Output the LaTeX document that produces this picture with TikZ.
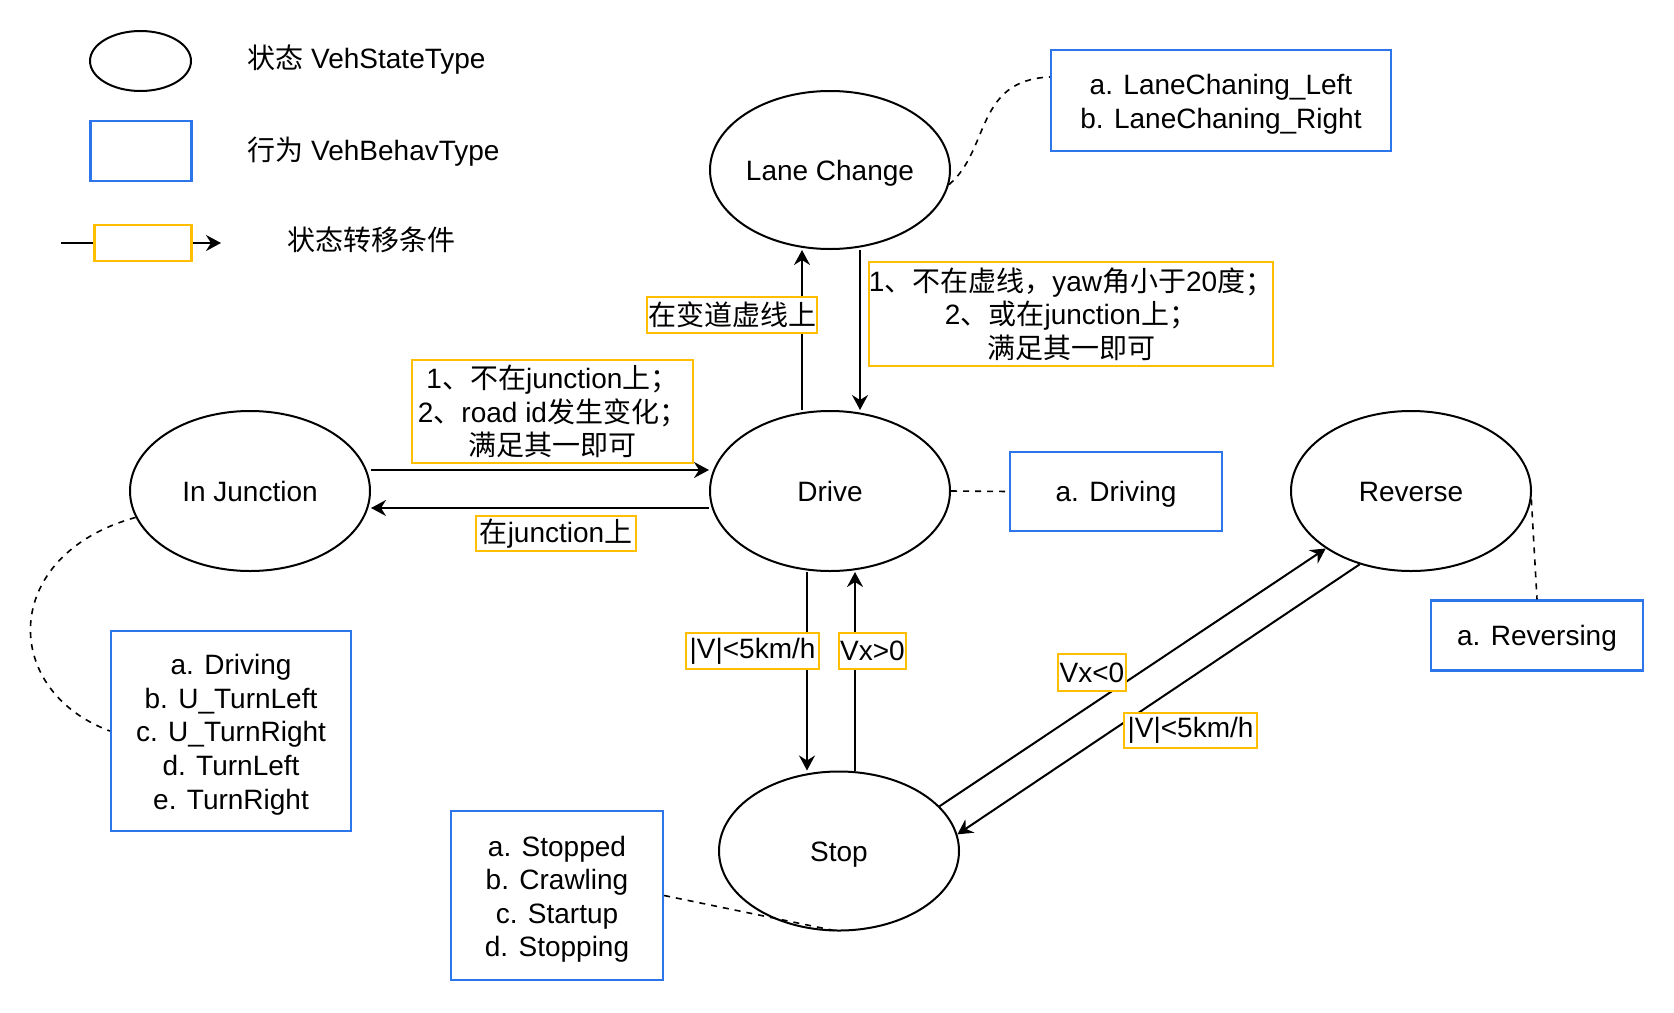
\documentclass[tikz,border=0pt]{standalone}
\usepackage{fontspec}
\setmainfont{Liberation Sans}
\newfontfamily\cjk{Noto Sans CJK SC}
\newcommand\zh[1]{{\cjk #1}}
\newcommand\topfix{\rule{0pt}{13.8pt}}
\usetikzlibrary{shapes.geometric,arrows.meta,calc}
\definecolor{bbl}{RGB}{45,117,235}
\definecolor{yel}{RGB}{255,190,0}
\begin{document}
\begin{tikzpicture}[x=0.5pt,y=-0.5pt,
  every node/.style={font=\fontsize{14}{16.8}\selectfont, align=center},
  oneline/.style={text height=10.2pt, text depth=0pt},
  state/.style={ellipse, draw, line width=1pt, inner sep=0, minimum width=120pt, minimum height=80pt, oneline},
  behav/.style={rectangle, draw=bbl, line width=1.1pt, inner sep=0},
  cond/.style={rectangle, draw=yel, fill=white, line width=1.1pt, inner sep=0},
  conn/.style={line width=1pt, -{Stealth[length=7.5pt,width=8pt,inset=2.5pt]}},
  note/.style={line width=0.8pt, dash pattern=on 3pt off 3pt},
]
\fill[white] (0,0) rectangle (1674,1012);
\useasboundingbox (0,0) rectangle (1674,1012);

% legend
\node[state, minimum width=50.5pt, minimum height=30pt] (lgE) at (140.5,61) {};
\node[behav, minimum width=50.5pt, minimum height=30pt] (lgR) at (141,151) {};
\node[cond, minimum width=48.5pt, minimum height=18pt] (lgY) at (143,243) {};
\coordinate (lgA) at (61,243);
\coordinate (lgB) at (221,243);
\draw[line width=1pt] (lgA) -- (lgY.west);
\draw[conn] (lgY.east) -- (lgB);
\node[anchor=west, inner sep=0] (lgT1) at (247,60) {\zh{状态} VehStateType};
\node[anchor=west, inner sep=0] (lgT2) at (247,152) {\zh{行为} VehBehavType};
\node[anchor=west, inner sep=0] (lgT3) at (287,240) {\zh{状态转移条件}};

% states
\node[state, minimum height=79pt] (lc) at (830,170) {Lane Change};
\node[state] (drive) at (830,491) {Drive};
\node[state] (ij) at (250,491) {In Junction};
\node[state] (rev) at (1411,491) {Reverse};
\node[state, minimum height=79.5pt] (stop) at (839,851) {Stop};

% behaviours
\node[behav, minimum width=170pt, minimum height=50.5pt] (lcbox) at (1221,100.5) {\topfix a. LaneChaning\_Left\\b. LaneChaning\_Right};
\node[behav, oneline, minimum width=106pt, minimum height=39.5pt] (drbox) at (1116,491.5) {a. Driving};
\node[behav, oneline, minimum width=106pt, minimum height=35pt] (rvbox) at (1537,635.5) {a. Reversing};
\node[behav, minimum width=120pt, minimum height=100pt] (ijbox) at (231,731) {\topfix a. Driving\\b. U\_TurnLeft\\c. U\_TurnRight\\d. TurnLeft\\e. TurnRight};
\node[behav, minimum width=106pt, minimum height=84.5pt] (stbox) at (557,895.5) {\topfix a. Stopped\\b. Crawling\\c. Startup\\d. Stopping};

% helper coordinates
\coordinate (x802) at (802,0);
\coordinate (x860) at (860,0);
\coordinate (x807) at (807,0);
\coordinate (x855) at (855,0);
\coordinate (y470) at (0,470);
\coordinate (y508) at (0,508);

% transitions
\draw[conn] (drive.north -| x802) -- (lc.south -| x802);
\draw[conn] (lc.south -| x860) -- (drive.north -| x860);
\draw[conn] (ij.east |- y470) -- (drive.west |- y470);
\draw[conn] (drive.west |- y508) -- (ij.east |- y508);
\draw[conn] (drive.south -| x807) -- (stop.north -| x807);
\draw[conn] (stop.north -| x855) -- (drive.south -| x855);
\draw[conn] (stop.24.9) -- (rev.214.1);
\draw[conn] (rev.235.9) -- (stop.8.8);

% dashed links
\draw[note] (lc.-7) .. controls (990,150) and (975,80) .. ($(lcbox.west)+(0,-23.5)$);
\draw[note] (drive.east) -- (drbox.west);
\draw[note] (rev.-4) -- (rvbox.north);
\draw[note] (ij.193.3) .. controls (0,555) and (0,690) .. (ijbox.west);
\draw[note] (stbox.east) -- (stop.south);

% conditions
\node[cond, minimum width=85pt, minimum height=18pt] (c1) at (732,315) {\zh{在变道虚线上}};
\node[cond, minimum width=202pt, minimum height=52pt] (c2) at (1071,314) {1\zh{、不在虚线，}yaw\zh{角小于}20\zh{度；}\\2\zh{、或在}junction\zh{上；}\\\zh{满足其一即可}};
\node[cond, minimum width=140.5pt, minimum height=51.5pt] (c3) at (552.5,411.5) {1\zh{、不在}junction\zh{上；}\\2\zh{、}road id\zh{发生变化；}\\\zh{满足其一即可}};
\node[cond, minimum width=80pt, minimum height=17.5pt] (c4) at (556,533.5) {\zh{在}junction\zh{上}};
\node[cond, minimum width=66.5pt, minimum height=18pt] (c5) at (752.5,651) {|V|<5km/h};
\node[cond, minimum width=33.5pt, minimum height=18pt] (c6) at (872.5,651) {Vx>0};
\node[cond, minimum width=34pt, minimum height=18.5pt] (c7) at (1092,672.5) {Vx<0};
\node[cond, minimum width=66.5pt, minimum height=17.5pt] (c8) at (1190.5,730.5) {|V|<5km/h};
\end{tikzpicture}
\end{document}
